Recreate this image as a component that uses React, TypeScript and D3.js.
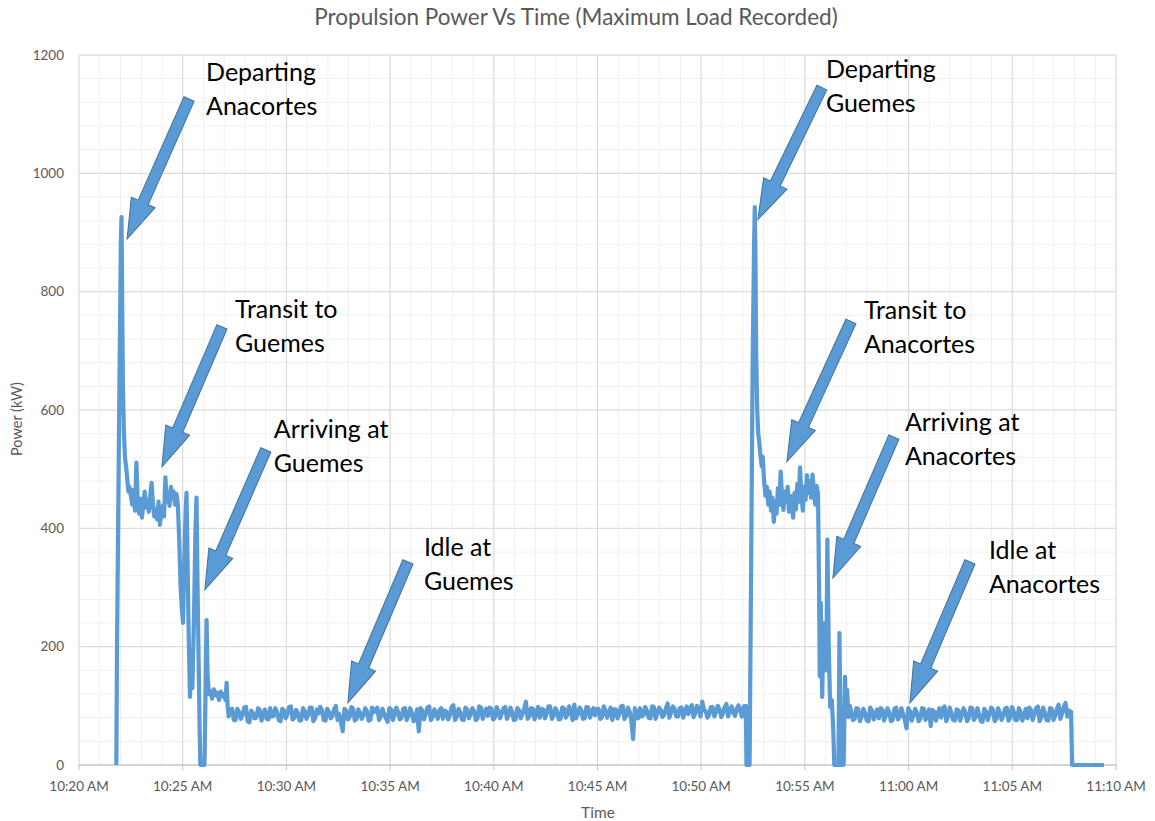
import * as d3 from "d3";

// seconds after 10:20:00, kW
const departAnacortes: [number, number][] = [
  [108, 0], [110, 200], [116, 584], [121, 880], [123, 926], [125, 780], [127, 640],
  [130, 560], [133, 520], [137, 500], [140, 480], [143, 462],
];
// every 4 s from 146 s
const transitGuemesStart = 146;
const transitGuemes = [
  470, 455, 440, 465, 430, 511, 445, 425, 450, 418, 440, 462, 435, 448, 428, 455, 477, 440,
  420, 432, 415, 445, 406, 425, 438, 420, 486, 445, 460, 438, 470, 450, 462, 440, 458,
];
const arriveGuemes: [number, number][] = [
  [286, 440], [290, 380], [294, 300], [298, 260], [301, 240], [304, 330], [308, 420],
  [311, 460], [314, 350], [317, 230], [321, 115], [325, 180], [328, 130], [333, 260],
  [337, 400], [340, 452], [343, 300], [346, 180], [349, 60], [351, 0], [358, 0], [363, 0],
  [366, 120], [369, 245], [372, 150], [376, 120], [380, 125], [385, 112], [390, 128],
  [395, 118], [400, 122], [405, 110], [410, 124], [415, 116], [420, 120], [424, 110],
  [427, 139], [430, 100],
];
// every 10 s from 433 s, plus the readings 5 s later
const idleGuemesStart = 433;
const idleGuemes = [
  82, 95, 76, 90, 84, 98, 72, 88, 80, 93,
  85, 78, 96, 83, 89, 74, 92, 86, 99, 80,
  88, 76, 91, 84, 97, 79, 87, 93, 75, 90,
  83, 100, 86, 57, 92, 81, 95, 78, 88, 84,
  91, 76, 89, 97, 82, 86, 73, 94, 85, 90,
  80, 96, 84, 88, 77, 57, 92, 86, 99, 81,
  87, 93, 78, 90, 84, 101, 82, 89, 76, 94,
  86, 91, 79, 97, 88, 83, 95, 80, 92, 87,
  98, 84, 90, 77, 93, 86, 107, 82, 95, 88,
  80, 94, 87, 99, 83, 91, 78, 96, 85, 90,
  102, 86, 93, 79, 97, 88, 84, 95, 81, 92,
  89, 76, 94, 86, 100, 83, 91, 44, 88, 96,
  84, 92, 79, 98, 87, 93, 85, 104, 89, 95,
  82, 97, 90, 86, 101, 88, 94, 107, 91, 85,
  98, 90, 94, 87, 103, 92, 88, 96, 91, 99,
];
const idleGuemesMid = [
  93, 76, 95, 78, 97, 74, 92, 79, 96, 75,
  94, 77, 82, 96, 76, 95, 79, 98, 77, 93,
  75, 96, 78, 97, 74, 94, 98, 76, 95, 79,
  94, 76, 72, 95, 77, 98, 75, 94, 78, 96,
  75, 97, 94, 76, 95, 79, 96, 76, 97, 77,
  95, 76, 96, 74, 94, 96, 77, 97, 76, 94,
  78, 96, 92, 77, 98, 76, 95, 77, 97, 79,
  96, 76, 99, 78, 95, 97, 77, 98, 79, 96,
  78, 97, 76, 96, 79, 95, 78, 96, 77, 98,
  95, 79, 99, 78, 96, 77, 97, 80, 99, 76,
  79, 97, 78, 98, 80, 96, 95, 78, 99, 80,
  97, 94, 79, 99, 78, 97, 74, 96, 79, 82,
  98, 80, 99, 78, 97, 81, 96, 80, 99, 82,
  96, 80, 99, 95, 81, 100, 82, 93, 80, 98,
  82, 100, 81, 98, 82, 99, 83, 101, 82, 96,
];
const departGuemes: [number, number][] = [
  [1929, 100], [1931, 0], [1940, 0], [1944, 300], [1949, 690], [1953, 880], [1955, 943],
  [1957, 860], [1959, 700], [1962, 600], [1965, 560], [1968, 545], [1972, 520],
  [1975, 505], [1978, 521],
];
// every 4 s from 1982 s
const transitAnacortesStart = 1982;
const transitAnacortes = [
  480, 455, 470, 440, 462, 430, 452, 411, 445, 425, 468, 440, 496, 450, 431, 462, 445, 470,
  428, 455, 440, 418, 460, 432, 475, 445, 503, 455, 430, 470, 448, 490, 460, 480, 452, 491,
  465, 440, 472, 458,
];
const arriveAnacortes: [number, number][] = [
  [2141, 300], [2143, 150], [2146, 274], [2150, 115], [2154, 240], [2158, 212], [2162, 160],
  [2165, 381], [2169, 200], [2173, 98], [2178, 110], [2182, 60], [2185, 0], [2197, 0],
  [2200, 223], [2203, 60], [2205, 0], [2212, 0], [2216, 149], [2219, 90], [2222, 127],
  [2226, 81], [2230, 100],
];
// every 10 s from 2234 s, plus the readings 5 s later
const idleAnacortesStart = 2234;
const idleAnacortes = [
  90, 78, 95, 82, 88, 74, 92, 85, 79, 94,
  83, 89, 76, 97, 81, 86, 62, 91, 84, 88,
  78, 95, 83, 66, 90, 86, 80, 99, 82, 87,
  75, 92, 84, 89, 79, 96, 81, 86, 73, 90,
  85, 94, 78, 88, 83, 97, 80, 91, 76, 89,
  84, 79, 93, 86, 99, 81, 88, 75, 95, 83,
  102, 87, 105, 92,
];
const idleAnacortesMid = [
  76, 96, 74, 95, 75, 97, 77, 94, 96, 75,
  96, 74, 95, 77, 96, 76, 96, 75, 95, 74,
  96, 76, 94, 93, 75, 96, 95, 74, 97, 76,
  94, 75, 96, 74, 97, 76, 96, 74, 95, 76,
  97, 74, 96, 76, 95, 75, 98, 76, 96, 75,
  95, 97, 76, 96, 74, 97, 76, 96, 76, 95,
  78, 99, 82, 80,
];
const shutdown: [number, number][] = [[2870, 90], [2873, 0], [2965, 0]];

// annotations: tip in data units (s, kW)
const noteLines = [
  ["Departing", "Anacortes"],
  ["Transit to", "Guemes"],
  ["Arriving at", "Guemes"],
  ["Idle at", "Guemes"],
  ["Departing", "Guemes"],
  ["Transit to", "Anacortes"],
  ["Arriving at", "Anacortes"],
  ["Idle at", "Anacortes"],
];
const noteTipSec = [139, 240, 364, 778, 1964, 2048, 2181, 2404];
const noteTipKw = [889, 504, 296, 105, 922, 513, 316, 105];
const noteTail = [[62, -140], [60, -140], [61, -140], [60, -141], [64, -132], [64, -140], [61, -141], [60, -141]];
const noteText = [[79, -158], [73, -149], [69, -152], [76, -147], [68, -141], [77, -142], [72, -147], [79, -144]];

const yTicks = [0, 200, 400, 600, 800, 1000, 1200];

const W = 1155, H = 821;
const m = { left: 79, right: 1116, top: 55, bottom: 765 };
const t0 = new Date(2015, 0, 1, 10, 20, 0);
const t1 = new Date(2015, 0, 1, 11, 10, 0);
const font = "Lato, 'Open Sans', sans-serif";
const blue = "#5B9BD5";

function toDate(s: number) {
  return new Date(t0.getTime() + s * 1000);
}

function stepped(start: number, step: number, vals: number[]): [number, number][] {
  return vals.map((p, i) => [start + i * step, p]);
}

function paired(start: number, vals: number[], mids: number[]): [number, number][] {
  const out: [number, number][] = [];
  vals.forEach((p, i) => {
    out.push([start + i * 10, p]);
    out.push([start + i * 10 + 5, mids[i]]);
  });
  return out;
}

export default function App() {
  const series: [number, number][] = [
    ...departAnacortes,
    ...stepped(transitGuemesStart, 4, transitGuemes),
    ...arriveGuemes,
    ...paired(idleGuemesStart, idleGuemes, idleGuemesMid),
    ...departGuemes,
    ...stepped(transitAnacortesStart, 4, transitAnacortes),
    ...arriveAnacortes,
    ...paired(idleAnacortesStart, idleAnacortes, idleAnacortesMid),
    ...shutdown,
  ];

  const x = d3.scaleTime().domain([t0, t1]).range([m.left, m.right]);
  const y = d3.scaleLinear().domain([0, 1200]).range([m.bottom, m.top]);
  const line = d3
    .line<[number, number]>()
    .x((d) => x(toDate(d[0])))
    .y((d) => y(d[1]));

  const majorX = x.ticks(d3.timeMinute.every(5)!);
  const minorX = x.ticks(d3.timeMinute.every(1)!);
  const minorY = d3.range(0, 1201, 40);
  const fmt = d3.timeFormat("%-I:%M %p");

  const arrowW = 11, headW = 26, headL = 40;

  return (
    <svg width={W} height={H} style={{ position: "absolute", left: 0, top: 0, background: "#fff" }}>
      <text x={576} y={25} textAnchor="middle" fontFamily={font} fontSize={22.5} fill="#595959">
        Propulsion Power Vs Time (Maximum Load Recorded)
      </text>
      {minorX.map((d, i) => (
        <line key={"mx" + i} x1={x(d)} x2={x(d)} y1={m.top} y2={m.bottom} stroke="#f0f0f0" />
      ))}
      {minorY.map((v, i) => (
        <line key={"my" + i} x1={m.left} x2={m.right} y1={y(v)} y2={y(v)} stroke="#f0f0f0" />
      ))}
      {majorX.map((d, i) => (
        <line key={"Mx" + i} x1={x(d)} x2={x(d)} y1={m.top} y2={m.bottom} stroke="#d9d9d9" />
      ))}
      {yTicks.map((v, i) => (
        <line key={"My" + i} x1={m.left} x2={m.right} y1={y(v)} y2={y(v)} stroke="#d9d9d9" />
      ))}
      <line x1={m.left} x2={m.right} y1={m.bottom} y2={m.bottom} stroke="#bfbfbf" />
      {majorX.map((d, i) => (
        <g key={"xt" + i}>
          <line x1={x(d)} x2={x(d)} y1={m.bottom} y2={m.bottom + 5} stroke="#bfbfbf" />
          <text x={x(d)} y={791} textAnchor="middle" fontFamily={font} fontSize={13.5} fill="#595959">
            {fmt(d)}
          </text>
        </g>
      ))}
      {yTicks.map((v, i) => (
        <text key={"yt" + i} x={64} y={y(v) + 4.5} textAnchor="end" fontFamily={font} fontSize={13.5} fill="#595959">
          {v}
        </text>
      ))}
      <text transform="translate(22,419) rotate(-90)" textAnchor="middle" fontFamily={font} fontSize={14.5} fill="#595959">
        Power  (kW)
      </text>
      <text x={598} y={818} textAnchor="middle" fontFamily={font} fontSize={15.5} fill="#595959">
        Time
      </text>
      <path d={line(series) ?? ""} fill="none" stroke={blue} strokeWidth={4.2} strokeLinejoin="round" />
      {noteLines.map((lines, i) => {
        const tx = x(toDate(noteTipSec[i]));
        const ty = y(noteTipKw[i]);
        const [dx, dy] = noteTail[i];
        const L = Math.hypot(dx, dy);
        const ang = (Math.atan2(-dy, -dx) * 180) / Math.PI;
        const pts = [
          [0, -arrowW / 2], [L - headL, -arrowW / 2], [L - headL, -headW / 2], [L, 0],
          [L - headL, headW / 2], [L - headL, arrowW / 2], [0, arrowW / 2],
        ];
        return (
          <g key={"n" + i}>
            <polygon
              points={pts.map((p) => p.join(",")).join(" ")}
              transform={`translate(${tx + dx},${ty + dy}) rotate(${ang})`}
              fill={blue}
              stroke="#41719C"
              strokeWidth={1}
            />
            {lines.map((s, j) => (
              <text key={j} x={tx + noteText[i][0]} y={ty + noteText[i][1] + j * 34} fontFamily={font} fontSize={25} fill="#000">
                {s}
              </text>
            ))}
          </g>
        );
      })}
    </svg>
  );
}
